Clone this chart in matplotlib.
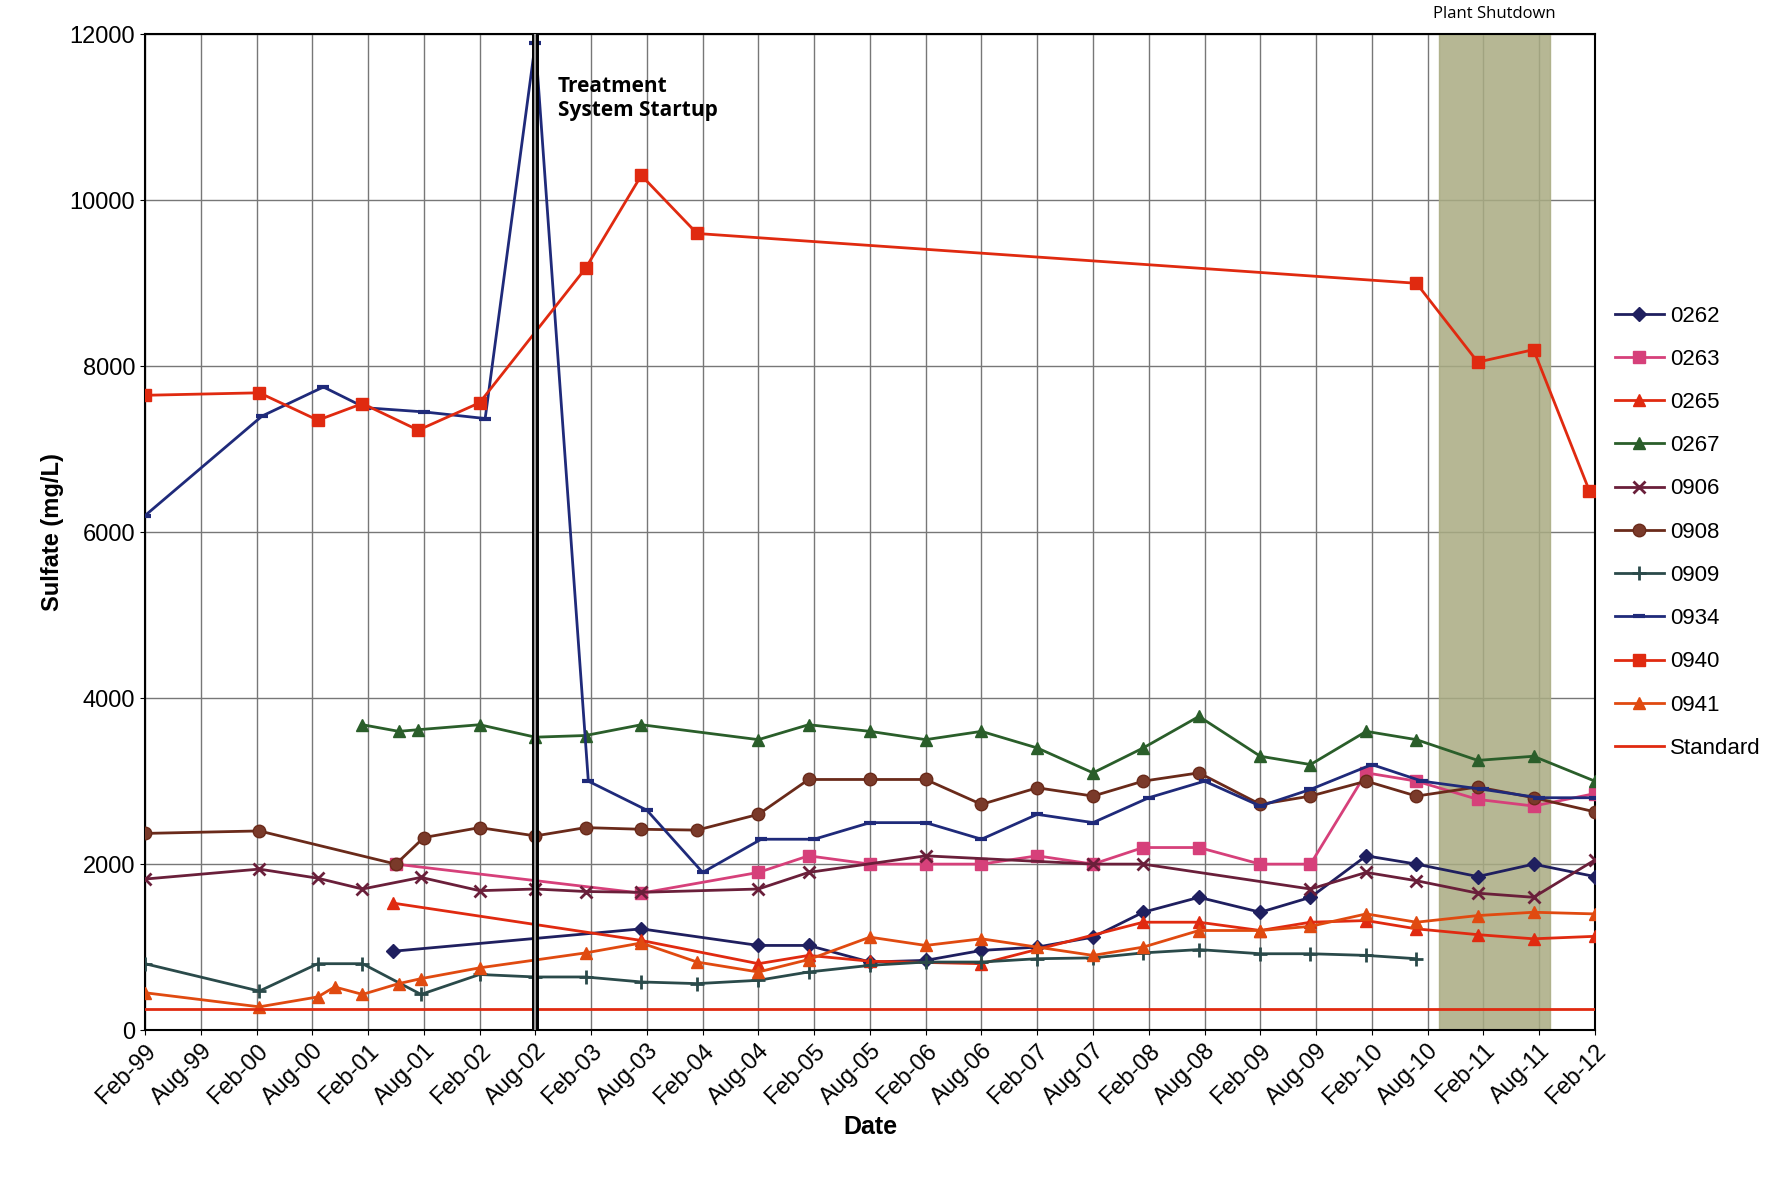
import matplotlib.pyplot as plt

plt.rcParams['font.family'] = ['Liberation Sans', 'DejaVu Sans']

months = ["Feb", "Aug"]
tick_labels = [f"{months[i % 2]}-{(99 + i // 2) % 100:02d}" for i in range(27)]

# x in half-year steps from Feb-99
x_0262 = [4.45, 8.9, 11, 11.9, 13, 14, 15, 16, 17, 17.9, 18.9, 20, 20.9, 21.9, 22.8, 23.9, 24.9, 26]
y_0262 = [950, 1220, 1020, 1020, 820, 840, 960, 1000, 1120, 1420, 1600, 1420, 1600, 2100, 2000, 1850, 2000, 1850]

x_0263 = [4.5, 8.9, 11, 11.9, 13, 14, 15, 16, 17, 17.9, 18.9, 20, 20.9, 21.9, 22.8, 23.9, 24.9, 26]
y_0263 = [2000, 1650, 1900, 2100, 2000, 2000, 2000, 2100, 2000, 2200, 2200, 2000, 2000, 3100, 3000, 2780, 2700, 2850]

x_0265 = [4.45, 8.9, 11, 11.9, 13, 15, 17.9, 18.9, 20, 20.9, 21.9, 22.8, 23.9, 24.9, 26]
y_0265 = [1530, 1080, 800, 900, 830, 800, 1300, 1300, 1200, 1300, 1320, 1220, 1150, 1100, 1130]

x_0267 = [3.9, 4.55, 4.9, 6.0, 7.0, 7.9, 8.9, 11, 11.9, 13, 14, 15, 16, 17, 17.9, 18.9, 20, 20.9, 21.9, 22.8, 23.9, 24.9, 26]
y_0267 = [3680, 3600, 3620, 3680, 3530, 3550, 3680, 3500, 3680, 3600, 3500, 3600, 3400, 3100, 3400, 3780, 3300, 3200, 3600, 3500, 3250, 3300, 3000]

x_0906 = [0, 2.05, 3.1, 3.9, 4.95, 6.0, 7.0, 7.9, 8.9, 11, 11.9, 14, 17, 17.9, 20.9, 21.9, 22.8, 23.9, 24.9, 26]
y_0906 = [1820, 1940, 1830, 1700, 1840, 1680, 1700, 1670, 1660, 1700, 1900, 2100, 2000, 2000, 1700, 1900, 1800, 1650, 1600, 2050]

x_0908 = [0, 2.05, 4.5, 5.0, 6.0, 7.0, 7.9, 8.9, 9.9, 11, 11.9, 13, 14, 15, 16, 17, 17.9, 18.9, 20, 20.9, 21.9, 22.8, 23.9, 24.9, 26]
y_0908 = [2370, 2400, 2000, 2320, 2440, 2340, 2440, 2420, 2410, 2600, 3020, 3020, 3020, 2720, 2920, 2820, 3000, 3100, 2720, 2820, 3000, 2820, 2930, 2800, 2630]

x_0909 = [0, 2.05, 3.1, 3.9, 4.95, 6.0, 7.0, 7.9, 8.9, 9.9, 11, 11.9, 13, 14, 15, 16, 17, 17.9, 18.9, 20, 20.9, 21.9, 22.8]
y_0909 = [800, 470, 800, 800, 430, 670, 640, 640, 580, 560, 600, 700, 780, 820, 820, 860, 870, 930, 970, 920, 920, 900, 860]

x_0934 = [0, 2.1, 3.2, 3.95, 5.0, 6.1, 7.0, 7.95, 9.0, 10, 11.05, 12, 13, 14, 15, 16, 17, 18, 19, 20, 20.9, 22, 22.9, 24, 25, 26]
y_0934 = [6200, 7400, 7750, 7500, 7450, 7370, 11900, 3000, 2650, 1900, 2300, 2300, 2500, 2500, 2300, 2600, 2500, 2800, 3000, 2700, 2900, 3200, 3000, 2900, 2800, 2800]

x_0940 = [0, 2.05, 3.1, 3.9, 4.9, 6.0, 7.9, 8.9, 9.9, 22.8, 23.9, 24.9, 25.9]
y_0940 = [7650, 7680, 7350, 7550, 7230, 7560, 9180, 10300, 9600, 9000, 8050, 8200, 6500]

x_0941 = [0, 2.05, 3.1, 3.4, 3.9, 4.55, 4.95, 6.0, 7.9, 8.9, 9.9, 11, 11.9, 13, 14, 15, 16, 17, 17.9, 18.9, 20, 20.9, 21.9, 22.8, 23.9, 24.9, 26]
y_0941 = [450, 280, 400, 520, 430, 560, 620, 750, 930, 1050, 820, 700, 850, 1120, 1020, 1100, 1000, 900, 1000, 1200, 1200, 1250, 1400, 1300, 1380, 1420, 1400]

x_std = [0, 26]
y_std = [250, 250]

fig = plt.figure(figsize=(17.9, 11.84), dpi=100)
ax = fig.add_axes([0.081, 0.13, 0.81, 0.841])

ax.axvspan(23.2, 25.2, color="#a9ab82", alpha=0.85, zorder=1)
ax.text(24.2, 12150, "Plant Shutdown", ha="center", va="bottom", fontsize=12, family="Open Sans")

ax.plot(x_0262, y_0262, color="#1f1f5f", marker="D", ms=7, lw=2, label="0262", zorder=3)
ax.plot(x_0263, y_0263, color="#d6407a", marker="s", ms=8, lw=2, label="0263", zorder=3)
ax.plot(x_0265, y_0265, color="#e02a10", marker="^", ms=9, lw=2, label="0265", zorder=3)
ax.plot(x_0267, y_0267, color="#2a5e2a", marker="^", ms=9, lw=2, label="0267", zorder=3)
ax.plot(x_0906, y_0906, color="#6a1f3a", marker="x", ms=8, mew=2, lw=2, label="0906", zorder=3)
ax.plot(x_0908, y_0908, color="#6a2a1a", marker="o", ms=9, mfc="#7a3a2a", lw=2, label="0908", zorder=3)
ax.plot(x_0909, y_0909, color="#2a4a4a", marker="+", ms=10, mew=2, lw=2, label="0909", zorder=3)
ax.plot(x_0934, y_0934, color="#1f2a7a", marker="_", ms=8, mew=3, lw=2, label="0934", zorder=3)
ax.plot(x_0940, y_0940, color="#e02a10", marker="s", ms=9, lw=2, label="0940", zorder=3)
ax.plot(x_0941, y_0941, color="#e04a10", marker="^", ms=9, lw=2, label="0941", zorder=3)
ax.plot(x_std, y_std, color="#e02a10", lw=2, label="Standard", zorder=3)

ax.axvline(7.0, color="black", lw=5, zorder=4)
ax.axvline(7.0, color="#999999", lw=1.5, zorder=4)
ax.text(7.4, 11500, "Treatment\nSystem Startup", fontsize=15, fontweight="bold",
        va="top", family="Open Sans")

ax.set_xlim(0, 26)
ax.set_ylim(0, 12000)
ax.set_xticks(range(27))
ax.set_xticklabels(tick_labels, rotation=45, ha="right", rotation_mode="anchor", fontsize=17)
ax.set_yticks(range(0, 12001, 2000))
ax.tick_params(axis="y", labelsize=17)
ax.grid(True, color="#777777", lw=1)
ax.set_axisbelow(True)
ax.set_xlabel("Date", fontsize=18, fontweight="bold")
ax.set_ylabel("Sulfate (mg/L)", fontsize=17, fontweight="bold")
for s in ax.spines.values():
    s.set_linewidth(1.5)

ax.legend(loc="center left", bbox_to_anchor=(1.0, 0.5), frameon=False, fontsize=16,
          handlelength=2.2, handletextpad=0.3, labelspacing=1.0)

fig.savefig("out.png")
